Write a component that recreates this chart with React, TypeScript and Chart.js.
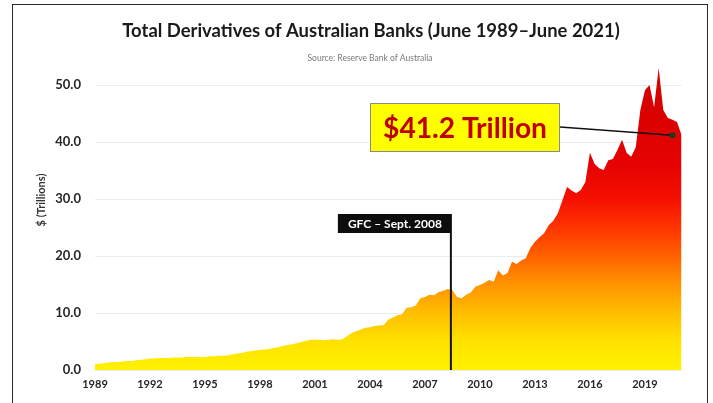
import React, { useEffect, useRef } from "react";
import { Chart, registerables } from "chart.js";

Chart.register(...registerables);

// ---------- DATA ----------
const FIRST_YEAR = 1989;
const MONTHS = ["Jan", "Feb", "Mar", "Apr", "May", "Jun", "Jul", "Aug", "Sep", "Oct", "Nov", "Dec"];

// Quarterly, June 1989 – June 2021, $ trillions
const TOTAL_DERIVATIVES: number[] = [
  1.0, 1.1, 1.2, 1.3, 1.4, 1.4, 1.5, 1.6, 1.6, 1.7, 1.8, 1.9,
  2.0, 2.0, 2.1, 2.1, 2.1, 2.2, 2.2, 2.2, 2.3, 2.3, 2.3, 2.3,
  2.3, 2.4, 2.4, 2.5, 2.5, 2.6, 2.7, 2.9, 3.0, 3.2, 3.3, 3.4,
  3.5, 3.6, 3.7, 3.9, 4.0, 4.2, 4.4, 4.5, 4.7, 4.9, 5.1, 5.3,
  5.3, 5.3, 5.2, 5.3, 5.4, 5.3, 5.4, 5.9, 6.5, 6.8, 7.1, 7.4,
  7.5, 7.7, 7.8, 7.9, 8.8, 9.2, 9.6, 9.8, 10.9, 11.0, 11.3, 12.6,
  12.8, 13.2, 13.1, 13.7, 13.9, 14.2, 14.0, 12.8, 12.6, 13.2, 13.6, 14.6,
  14.9, 15.3, 15.8, 15.5, 17.5, 16.6, 17.0, 19.0, 18.6, 19.2, 19.6, 21.4,
  22.5, 23.3, 24.0, 25.4, 26.2, 27.5, 29.8, 32.1, 31.5, 31.0, 31.6, 33.0,
  38.1, 36.2, 35.4, 35.1, 36.8, 37.0, 38.6, 40.4, 38.1, 37.4, 39.1, 45.6,
  49.1, 50.0, 46.1, 53.0, 45.6, 44.2, 43.9, 43.5, 41.2,
];

const QUARTER_LABELS: string[] = TOTAL_DERIVATIVES.map((_, i) => {
  const m = 5 + 3 * i;
  return `${MONTHS[m % 12]} ${FIRST_YEAR + Math.floor(m / 12)}`;
});

const YEAR_TICKS = ["1989", "1992", "1995", "1998", "2001", "2004", "2007", "2010", "2013", "2016", "2019"];

const TITLE = "Total Derivatives of Australian Banks (June 1989\u2013June 2021)";
const SUBTITLE = "Source: Reserve Bank of Australia";
const Y_TITLE = "$ (Trillions)";
const GFC_LABEL = "GFC \u2013 Sept. 2008";
const GFC_QUARTER = "Sep 2008";

const FONT = "Lato, 'Open Sans', sans-serif";

function fitFont(ctx: CanvasRenderingContext2D, text: string, width: number, weight: string) {
  ctx.font = `${weight} 20px ${FONT}`;
  const w = ctx.measureText(text).width;
  return (20 * width) / w;
}

const annotationPlugin = {
  id: "annotations",
  afterDatasetsDraw(chart: any) {
    const { ctx, scales } = chart;
    const x = scales.x;
    const y = scales.y;
    ctx.save();

    // Title
    ctx.fillStyle = "#1a1a1a";
    ctx.textAlign = "center";
    ctx.textBaseline = "middle";
    const ts = fitFont(ctx, TITLE, 498, "bold");
    ctx.font = `bold ${ts}px ${FONT}`;
    ctx.fillText(TITLE, 371, 31);
    ctx.fillStyle = "#7a7a7a";
    ctx.font = `8.5px ${FONT}`;
    ctx.fillText(SUBTITLE, 370, 58);

    // Y axis title
    ctx.save();
    ctx.translate(41, 200);
    ctx.rotate(-Math.PI / 2);
    ctx.fillStyle = "#333";
    ctx.font = `bold 11px ${FONT}`;
    ctx.fillText(Y_TITLE, 0, 0);
    ctx.restore();

    // GFC marker
    const gi = QUARTER_LABELS.indexOf(GFC_QUARTER);
    const gx = x.getPixelForValue(gi) + 3;
    const boxTop = 214;
    const boxH = 19;
    const boxW = 114;
    ctx.strokeStyle = "#111";
    ctx.lineWidth = 2;
    ctx.beginPath();
    ctx.moveTo(gx, boxTop + boxH);
    ctx.lineTo(gx, y.getPixelForValue(0));
    ctx.stroke();
    ctx.fillStyle = "#0d0d0d";
    ctx.fillRect(gx + 1 - boxW, boxTop, boxW, boxH);
    ctx.fillStyle = "#ffffff";
    ctx.font = `bold 12px ${FONT}`;
    ctx.fillText(GFC_LABEL, gx + 1 - boxW / 2, boxTop + boxH / 2 + 0.5);

    // Final value callout
    const last = TOTAL_DERIVATIVES[TOTAL_DERIVATIVES.length - 1];
    const label = `$${last.toFixed(1)} Trillion`;
    const px = x.getPixelForValue(TOTAL_DERIVATIVES.length - 3);
    const py = y.getPixelForValue(last);
    const bx = 370, by = 103, bw = 190, bh = 49;
    ctx.strokeStyle = "#111";
    ctx.lineWidth = 1.5;
    ctx.beginPath();
    ctx.moveTo(bx + bw, by + 24);
    ctx.lineTo(px, py);
    ctx.stroke();
    ctx.fillStyle = "#1b3a1b";
    ctx.beginPath();
    ctx.arc(px, py, 3, 0, Math.PI * 2);
    ctx.fill();
    ctx.fillStyle = "#ffff00";
    ctx.fillRect(bx, by, bw, bh);
    ctx.strokeStyle = "#8a8a8a";
    ctx.lineWidth = 1;
    ctx.strokeRect(bx + 0.5, by + 0.5, bw - 1, bh - 1);
    const ls = fitFont(ctx, label, 164, "bold");
    ctx.font = `bold ${ls}px ${FONT}`;
    ctx.fillStyle = "#c00000";
    ctx.fillText(label, bx + bw / 2, by + bh / 2 + 1);

    ctx.restore();
  },
};

export default function App() {
  const ref = useRef<HTMLCanvasElement | null>(null);

  useEffect(() => {
    if (!ref.current) return;
    const chart = new Chart(ref.current, {
      type: "line",
      data: {
        labels: QUARTER_LABELS,
        datasets: [
          {
            data: TOTAL_DERIVATIVES,
            fill: "origin",
            borderWidth: 0,
            borderColor: "rgba(0,0,0,0)",
            pointRadius: 0,
            tension: 0,
            backgroundColor: (c: any) => {
              const ch = c.chart;
              const { ctx, chartArea, scales } = ch;
              if (!chartArea || !scales.y) return "#ffd000";
              const y0 = scales.y.getPixelForValue(0);
              const y1 = scales.y.getPixelForValue(50);
              const g = ctx.createLinearGradient(0, y0, 0, y1);
              g.addColorStop(0, "#fff200");
              g.addColorStop(0.1, "#ffe200");
              g.addColorStop(0.2, "#ffbe00");
              g.addColorStop(0.3, "#ff9400");
              g.addColorStop(0.4, "#ff6200");
              g.addColorStop(0.5, "#ff3400");
              g.addColorStop(0.6, "#f51000");
              g.addColorStop(0.72, "#e60202");
              g.addColorStop(1, "#d40000");
              return g;
            },
          },
        ],
      },
      options: {
        responsive: false,
        animation: false,
        events: [],
        layout: { padding: { top: 56.5, right: 31.4, bottom: 0, left: 0 } },
        plugins: {
          legend: { display: false },
          tooltip: { enabled: false },
          title: { display: false },
        },
        scales: {
          x: {
            type: "category",
            offset: false,
            grid: { display: false, drawTicks: false },
            border: { display: false },
            ticks: {
              autoSkip: false,
              maxRotation: 0,
              minRotation: 0,
              padding: 8,
              color: "#262626",
              font: { family: FONT, size: 11, weight: "bold" },
              callback: (_v: any, i: number) => (i % 12 === 0 ? YEAR_TICKS[i / 12] ?? "" : ""),
            },
            afterFit: (s: any) => {
              s.height = 33;
            },
          },
          y: {
            min: 0,
            max: 55,
            grid: { color: "#ececec", drawTicks: false },
            border: { display: false },
            ticks: {
              stepSize: 10,
              padding: 14,
              color: "#262626",
              font: { family: FONT, size: 13, weight: "bold" },
              callback: (v: any) => Number(v).toFixed(1),
            },
            afterBuildTicks: (s: any) => {
              s.ticks = s.ticks.filter((t: any) => t.value % 10 === 0);
            },
            afterFit: (s: any) => {
              s.width = 95;
            },
          },
        },
      },
      plugins: [annotationPlugin],
    } as any);
    return () => chart.destroy();
  }, []);

  return (
    <div style={{ position: "absolute", left: 0, top: 0, width: 713, height: 403, overflow: "hidden", background: "#fff" }}>
      <canvas ref={ref} width={713} height={403} style={{ display: "block" }} />
      <div
        style={{
          position: "absolute",
          left: 12,
          top: 4,
          width: 694,
          height: 399,
          borderTop: "1px solid #2b2b2b",
          borderLeft: "1px solid #2b2b2b",
          borderRight: "1px solid #2b2b2b",
          pointerEvents: "none",
        }}
      />
    </div>
  );
}
